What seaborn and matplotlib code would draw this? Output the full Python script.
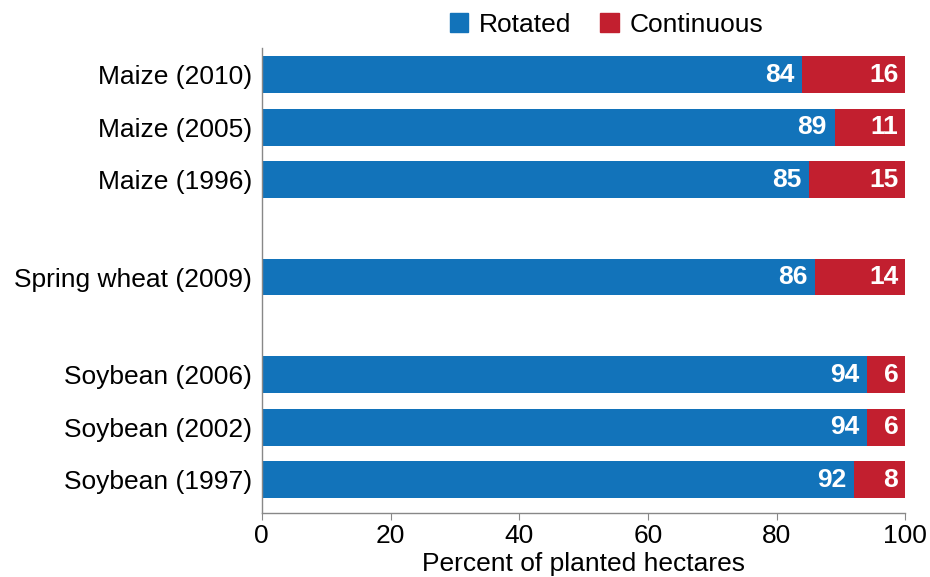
import numpy as np
import pandas as pd
import matplotlib
matplotlib.use("Agg")
import matplotlib.pyplot as plt
import seaborn as sns
from matplotlib.patches import Patch

crops = ["Maize (2010)", "Maize (2005)", "Maize (1996)", "Spring wheat (2009)",
         "Soybean (2006)", "Soybean (2002)", "Soybean (1997)"]
rotated = [84, 89, 85, 86, 94, 94, 92]
continuous = [16, 11, 15, 14, 6, 6, 8]
# row positions, with wider gaps between crop groups
rows = [0, 1, 2, 3.85, 5.71, 6.71, 7.71]

blue = "#1273ba"
red = "#c21f2f"

df = pd.DataFrame({"crop": crops, "Rotated": rotated, "Continuous": continuous, "row": rows})
df["total"] = df["Rotated"] + df["Continuous"]

sns.set_style("white")
plt.rcParams["font.family"] = ["Liberation Sans", "DejaVu Sans"]
plt.rcParams["text.color"] = "black"
plt.rcParams["xtick.color"] = "black"
plt.rcParams["ytick.color"] = "black"
plt.rcParams["axes.labelcolor"] = "black"

fs = 19

fig = plt.figure(figsize=(9.3, 5.77), dpi=100)
ax = fig.add_axes([0.2815, 0.111, 0.692, 0.806])

sns.barplot(data=df, x="total", y="row", orient="y", native_scale=True,
            color=red, saturation=1, width=0.7, linewidth=0, ax=ax)
sns.barplot(data=df, x="Rotated", y="row", orient="y", native_scale=True,
            color=blue, saturation=1, width=0.7, linewidth=0, ax=ax)

for _, r in df.iterrows():
    ax.text(r["Rotated"] - 1.2, r["row"], str(r["Rotated"]), color="white",
            fontsize=fs, fontweight="bold", ha="right", va="center")
    ax.text(r["total"] - 1.1, r["row"], str(r["Continuous"]), color="white",
            fontsize=fs, fontweight="bold", ha="right", va="center")

ax.set_yticks(rows)
ax.set_yticklabels(crops, fontsize=fs)
ax.set_ylim(rows[-1] + 0.63, rows[0] - 0.51)
ax.set_xlim(0, 100)
ax.set_xticks([0, 20, 40, 60, 80, 100])
ax.tick_params(axis="x", labelsize=fs, length=5, color="#888888", direction="out", bottom=True, pad=3)
ax.tick_params(axis="y", length=0, pad=7)
ax.set_xlabel("Percent of planted hectares", fontsize=fs, labelpad=3)
ax.set_ylabel("")

for s in ["top", "right"]:
    ax.spines[s].set_visible(False)
for s in ["left", "bottom"]:
    ax.spines[s].set_color("#888888")
    ax.spines[s].set_linewidth(1)

handles = [Patch(color=blue, label="Rotated"), Patch(color=red, label="Continuous")]
fig.legend(handles=handles, loc="center", bbox_to_anchor=(0.652, 0.957), ncol=2,
           frameon=False, fontsize=fs, handlelength=0.7, handleheight=0.7,
           handletextpad=0.4, columnspacing=1.1)

fig.savefig("out.png", dpi=100)
